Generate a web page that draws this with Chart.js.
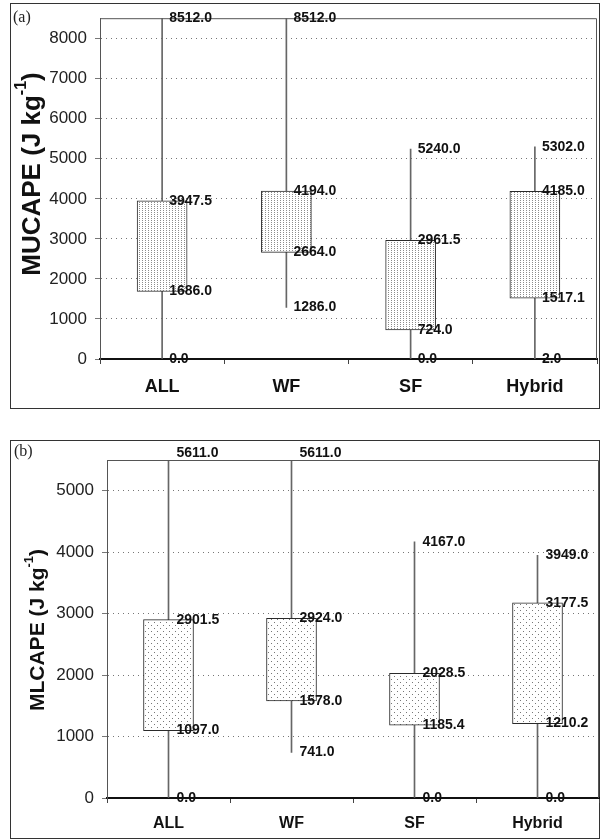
<!DOCTYPE html>
<html>
<head>
<meta charset="utf-8">
<script src="https://cdn.jsdelivr.net/npm/chart.js@4.4.0/dist/chart.umd.min.js"></script>
<style>
  body { margin: 0; background: #fff; width: 600px; height: 840px; position: relative; overflow: hidden; }
  .frame { position: absolute; border: 1px solid #333; box-sizing: border-box; }
  canvas { position: absolute; left: 0; }
  .tag { position: absolute; font: 16px "Liberation Serif", "DejaVu Serif", serif; color: #222; }
</style>
</head>
<body>
<div class="frame" style="left:10px;top:3px;width:590px;height:406px"></div>
<div class="frame" style="left:10px;top:440px;width:590px;height:399px"></div>
<canvas id="chartA" width="600" height="420" style="top:0"></canvas>
<canvas id="chartB" width="600" height="420" style="top:420px"></canvas>
<div class="tag" style="left:13px;top:8px">(a)</div>
<div class="tag" style="left:14px;top:442px">(b)</div>
<script>
const categories = ['ALL', 'WF', 'SF', 'Hybrid'];

// (a) MUCAPE
const muMin = [0.0, 1286.0, 0.0, 2.0];
const muQ1 = [1686.0, 2664.0, 724.0, 1517.1];
const muQ3 = [3947.5, 4194.0, 2961.5, 4185.0];
const muMax = [8512.0, 8512.0, 5240.0, 5302.0];
const muTicks = [0, 1000, 2000, 3000, 4000, 5000, 6000, 7000, 8000];

// (b) MLCAPE
const mlMin = [0.0, 741.0, 0.0, 0.0];
const mlQ1 = [1097.0, 1578.0, 1185.4, 1210.2];
const mlQ3 = [2901.5, 2924.0, 2028.5, 3177.5];
const mlMax = [5611.0, 5611.0, 4167.0, 3949.0];
const mlTicks = [0, 1000, 2000, 3000, 4000, 5000];

const SANS = '"Liberation Sans", Arial, sans-serif';

function makePattern(w, h, dots, color) {
  const c = document.createElement('canvas');
  c.width = w; c.height = h;
  const g = c.getContext('2d');
  g.fillStyle = '#fff';
  g.fillRect(0, 0, w, h);
  g.fillStyle = color;
  dots.forEach(([x, y]) => g.fillRect(x, y, 1, 1));
  return g.createPattern(c, 'repeat');
}

// top + right edges of the plot box
const framePlugin = {
  id: 'plotFrame',
  afterDatasetsDraw(chart) {
    const {ctx, chartArea: a} = chart;
    ctx.save();
    ctx.strokeStyle = '#555';
    ctx.lineWidth = 1;
    ctx.beginPath();
    ctx.moveTo(a.left, a.top + 0.5);
    ctx.lineTo(a.right - 0.5, a.top + 0.5);
    ctx.lineTo(a.right - 0.5, a.bottom);
    ctx.stroke();
    ctx.restore();
  }
};

function labelPlugin(rows, dx) {
  return {
    id: 'valueLabels',
    afterDraw(chart) {
      const {ctx, scales: {x, y}} = chart;
      ctx.save();
      ctx.font = 'bold 14px ' + SANS;
      ctx.fillStyle = '#111';
      ctx.textBaseline = 'middle';
      rows.forEach(vals => vals.forEach((v, i) => {
        ctx.fillText(v.toFixed(1), x.getPixelForValue(i) + dx, y.getPixelForValue(v));
      }));
      ctx.restore();
    }
  };
}

function titlePlugin(main, cx, cy, size) {
  return {
    id: 'yTitle',
    afterDraw(chart) {
      const ctx = chart.ctx;
      const big = 'bold ' + size + 'px ' + SANS;
      const small = 'bold ' + Math.round(size * 0.6) + 'px ' + SANS;
      ctx.save();
      ctx.translate(cx, cy);
      ctx.rotate(-Math.PI / 2);
      ctx.fillStyle = '#111';
      ctx.textBaseline = 'middle';
      ctx.font = big;
      const w1 = ctx.measureText(main).width;
      const w3 = ctx.measureText(')').width;
      ctx.font = small;
      const w2 = ctx.measureText('-1').width;
      const x0 = -(w1 + w2 + w3) / 2;
      ctx.font = big;
      ctx.fillText(main, x0, 0);
      ctx.font = small;
      ctx.fillText('-1', x0 + w1, -size * 0.42);
      ctx.font = big;
      ctx.fillText(')', x0 + w1 + w2, 0);
      ctx.restore();
    }
  };
}

function buildChart(id, o) {
  return new Chart(document.getElementById(id), {
    type: 'bar',
    data: {
      labels: categories,
      datasets: [
        {
          label: 'Quartiles',
          data: o.q1.map((v, i) => [v, o.q3[i]]),
          backgroundColor: o.pattern,
          borderColor: '#2a2a2a',
          borderWidth: 1,
          borderSkipped: false,
          barThickness: o.boxW,
          grouped: false,
          order: 0
        },
        {
          label: 'Range',
          data: o.min.map((v, i) => [v, o.max[i]]),
          backgroundColor: '#666',
          borderWidth: 0,
          barThickness: 1,
          grouped: false,
          order: 1
        }
      ]
    },
    options: {
      responsive: false,
      animation: false,
      devicePixelRatio: 1,
      layout: { padding: { top: o.top, right: o.right, left: 0, bottom: 0 } },
      plugins: { legend: { display: false }, tooltip: { enabled: false } },
      scales: {
        x: {
          grid: { drawOnChartArea: false, tickLength: 5, color: '#444', offset: true },
          border: { color: '#111', width: 2 },
          ticks: { color: '#111', font: { family: SANS, size: o.xFont, weight: 'bold' }, padding: o.xPad },
          afterFit: s => { s.height = o.xH; }
        },
        y: {
          min: 0,
          max: o.yMax,
          afterBuildTicks: s => { s.ticks = o.ticks.map(v => ({ value: v })); },
          ticks: { color: '#222', font: { family: SANS, size: 17 }, padding: 8, callback: v => String(v) },
          grid: { color: '#777', tickLength: 5 },
          border: { color: '#555', dash: [1, 4] },
          afterFit: s => { s.width = o.yW; }
        }
      }
    },
    plugins: [framePlugin, labelPlugin([o.min, o.q1, o.q3, o.max], o.dx), titlePlugin(o.title, o.tx, o.ty, o.tSize)]
  });
}

buildChart('chartA', {
  min: muMin, q1: muQ1, q3: muQ3, max: muMax, ticks: muTicks,
  pattern: makePattern(3, 2, [[1, 0]], '#8c8c8c'),
  boxW: 50, yMax: 8512, top: 17, right: 3, yW: 100, xH: 61, xFont: 18, xPad: 12,
  dx: 7, title: 'MUCAPE (J kg', tx: 33, ty: 174, tSize: 26
});

buildChart('chartB', {
  min: mlMin, q1: mlQ1, q3: mlQ3, max: mlMax, ticks: mlTicks,
  pattern: makePattern(6, 6, [[1, 1], [4, 4]], '#777'),
  boxW: 50, yMax: 5500, top: 40, right: 1, yW: 107, xH: 42, xFont: 16, xPad: 11,
  dx: 8, title: 'MLCAPE (J kg', tx: 38, ty: 210, tSize: 21
});
</script>
</body>
</html>
